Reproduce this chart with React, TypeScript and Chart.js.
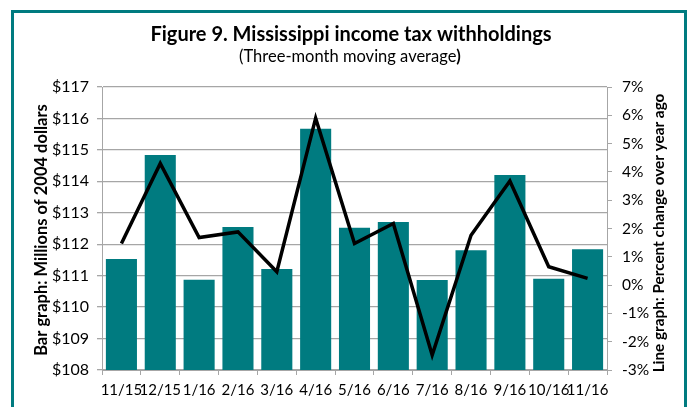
import React, { useEffect, useRef } from "react";
import { Chart, registerables } from "chart.js";

Chart.register(...registerables);

const FONT = "Lato, 'DejaVu Sans', sans-serif";
const TEAL = "#007B80";

const TITLE = "Figure 9. Mississippi income tax withholdings";
const SUBTITLE_MAIN = "(Three-month moving average";
const SUBTITLE_END = ")";
const LEFT_TITLE = "Bar graph: Millions of 2004 dollars";
const RIGHT_TITLE = "Line graph: Percent change over year ago";

const categories = ["11/15", "12/15", "1/16", "2/16", "3/16", "4/16", "5/16", "6/16", "7/16", "8/16", "9/16", "10/16", "11/16"];
const withholdings = [111.53, 114.84, 110.87, 112.55, 111.21, 115.67, 112.52, 112.71, 110.86, 111.81, 114.2, 110.9, 111.84];
const pctChange = [1.47, 4.3, 1.68, 1.88, 0.47, 5.9, 1.47, 2.18, -2.47, 1.76, 3.68, 0.65, 0.24];
const leftRange = [108, 117];
const rightRange = [-3, 7];

const titlesPlugin = {
  id: "customTitles",
  afterDraw(chart: any) {
    const { ctx } = chart;
    ctx.save();
    ctx.fillStyle = "#000";
    ctx.textBaseline = "alphabetic";
    ctx.textAlign = "center";
    ctx.font = `bold 20px ${FONT}`;
    ctx.fillText(TITLE, 351, 41);

    ctx.font = `16.5px ${FONT}`;
    const wMain = ctx.measureText(SUBTITLE_MAIN).width;
    ctx.font = `bold 16.5px ${FONT}`;
    const wEnd = ctx.measureText(SUBTITLE_END).width;
    const start = 350 - (wMain + wEnd) / 2;
    ctx.textAlign = "left";
    ctx.font = `16.5px ${FONT}`;
    ctx.fillText(SUBTITLE_MAIN, start, 62);
    ctx.font = `bold 16.5px ${FONT}`;
    ctx.fillText(SUBTITLE_END, start + wMain, 62);

    ctx.textAlign = "center";
    ctx.textBaseline = "middle";
    ctx.save();
    ctx.font = `bold 16.5px ${FONT}`;
    ctx.translate(42, 230);
    ctx.rotate(-Math.PI / 2);
    ctx.fillText(LEFT_TITLE, 0, 0);
    ctx.restore();
    ctx.save();
    ctx.font = `bold 15.3px ${FONT}`;
    ctx.translate(659, 233);
    ctx.rotate(-Math.PI / 2);
    ctx.fillText(RIGHT_TITLE, 0, 0);
    ctx.restore();
    ctx.restore();
  },
};

export default function App() {
  const ref = useRef<HTMLCanvasElement | null>(null);

  useEffect(() => {
    if (!ref.current) return;
    const gridColor = "#a6a6a6";
    const chart = new Chart(ref.current, {
      type: "bar",
      data: {
        labels: categories,
        datasets: [
          {
            type: "line",
            label: "Percent change",
            data: pctChange,
            yAxisID: "y1",
            borderColor: "#000",
            borderWidth: 3.5,
            pointRadius: 0,
            tension: 0,
            borderJoinStyle: "miter",
            order: 0,
          } as any,
          {
            type: "bar",
            label: "Withholdings",
            data: withholdings,
            yAxisID: "y",
            backgroundColor: TEAL,
            borderWidth: 0,
            barPercentage: 0.8,
            categoryPercentage: 1,
            order: 1,
          } as any,
        ],
      },
      options: {
        responsive: false,
        animation: false,
        devicePixelRatio: 1,
        layout: { padding: { top: 87, left: 0, right: 0, bottom: 0 } },
        plugins: {
          legend: { display: false },
          title: { display: false },
          tooltip: { enabled: false },
        },
        scales: {
          x: {
            offset: true,
            grid: {
              offset: true,
              drawOnChartArea: false,
              drawTicks: true,
              tickLength: 5,
              color: gridColor,
              lineWidth: 1,
            },
            border: { color: gridColor, width: 1 },
            ticks: { color: "#000", font: { family: FONT, size: 15 }, padding: 6, maxRotation: 0, autoSkip: false },
            afterFit: (s: any) => {
              s.height = 37;
            },
          },
          y: {
            position: "left",
            min: leftRange[0],
            max: leftRange[1],
            grid: { color: gridColor, lineWidth: 1.3, tickLength: 5, drawTicks: true },
            border: { color: gridColor, width: 1 },
            ticks: {
              stepSize: 1,
              color: "#000",
              font: { family: FONT, size: 16 },
              padding: 8,
              callback: (v: any) => `$${v}`,
            },
            afterFit: (s: any) => {
              s.width = 102;
            },
          },
          y1: {
            position: "right",
            min: rightRange[0],
            max: rightRange[1],
            grid: { drawOnChartArea: false, color: gridColor, tickLength: 5, drawTicks: true },
            border: { color: gridColor, width: 1 },
            ticks: {
              stepSize: 1,
              color: "#000",
              font: { family: FONT, size: 15.5 },
              padding: 10,
              callback: (v: any) => `${v}%`,
            },
            afterFit: (s: any) => {
              s.width = 82;
            },
          },
        },
      },
      plugins: [titlesPlugin],
    });
    return () => chart.destroy();
  }, []);

  return (
    <div style={{ position: "fixed", left: 0, top: 0, width: 689, height: 407, background: "#fff", overflow: "hidden" }}>
      <div
        style={{
          position: "absolute",
          left: 11,
          top: 10,
          width: 676,
          height: 420,
          boxSizing: "border-box",
          border: `3px solid ${TEAL}`,
          borderBottom: "none",
        }}
      />
      <canvas ref={ref} width={689} height={407} style={{ position: "absolute", left: 0, top: 0, width: 689, height: 407 }} />
    </div>
  );
}
